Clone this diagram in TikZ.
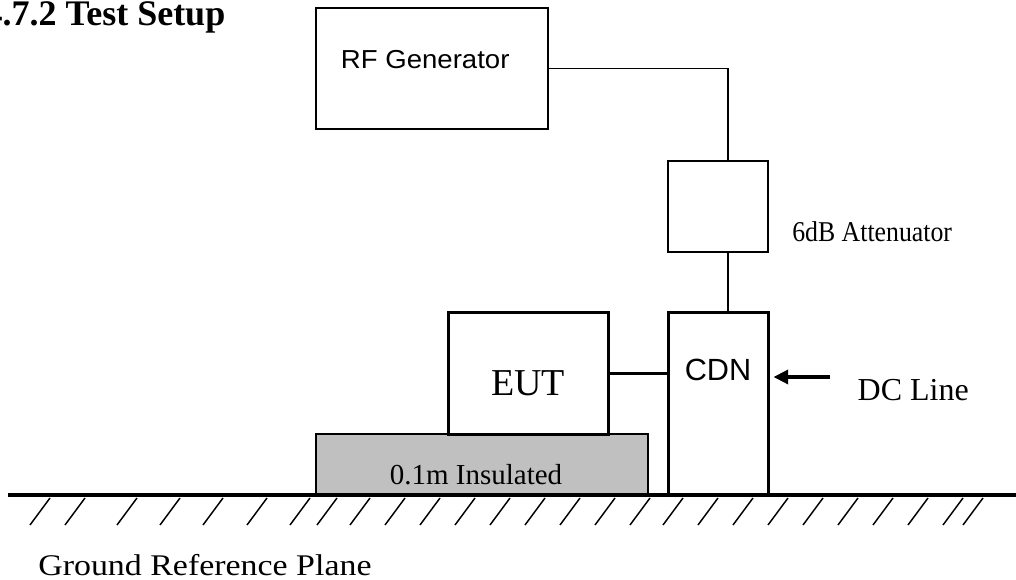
\documentclass[tikz,border=0pt]{standalone}
\usepackage{fontspec}
\setmainfont{Liberation Serif}
\setsansfont{Liberation Sans}
\usetikzlibrary{arrows.meta,positioning}
\definecolor{insulgray}{RGB}{192,192,192}

\begin{document}
\begin{tikzpicture}[x=0.75pt, y=-0.75pt,
    thinbox/.style={draw, line width=1pt, inner sep=0pt},
    thickbox/.style={draw, line width=2.25pt, inner sep=0pt},
    wire/.style={line width=1pt},
    heavywire/.style={line width=2.25pt}]
    % Frame
    \clip (0,0) rectangle (1016,580);

    % Title
    \node[anchor=base east, font=\fontsize{27}{30}\selectfont\bfseries] (title) at (230,26) {4.7.2 Test Setup};

    % Insulated support
    \node[thinbox, fill=insulgray, minimum width=249pt, minimum height=45.75pt] (support) at (482,464.5) {};
    \node[anchor=base, font=\fontsize{21.75}{24}\selectfont] (supportlabel) at (476,484) {0.1m Insulated};

    % Ground plane
    \draw[line width=3.5pt] (8,495) -- (1016,495);
    \foreach \x in {30,65,117,160,203,247,290,317,350,385,420,455,490,525,560,595,630,663,698,733,768,803,838,873,908,943,963} {
        \draw[line width=1.1pt] (\x,525) -- (\x+20,498);
    }
    \node[anchor=base west, xscale=1.13, font=\fontsize{22.5}{25}\selectfont] (groundlabel) at (33,575) {Ground Reference Plane};

    % Boxes
    \node[thinbox, minimum width=174pt, minimum height=90.75pt] (rfgen) at (432,68.5) {};
    \node[anchor=base west, xscale=1.06, font=\sffamily\fontsize{19.5}{22}\selectfont] (rflabel) at (336,69) {RF Generator};

    \node[thinbox, minimum width=75pt, minimum height=68.25pt] (atten) at (718,206.5) {};
    \node[anchor=base west, xscale=0.9, font=\fontsize{21.5}{24}\selectfont] (attenlabel) at (788,242) {6dB Attenuator};

    \node[thickbox, minimum width=75pt, minimum height=136.5pt] (cdn) at (718,404) {};
    \node[anchor=base, font=\sffamily\fontsize{23}{26}\selectfont] (cdnlabel) at (718,381) {CDN};

    \node[thickbox, minimum width=120pt, minimum height=90.75pt] (eut) at (528,373.5) {};
    \node[anchor=base, font=\fontsize{28.5}{31}\selectfont] (eutlabel) at (528,395) {EUT};

    % Connections
    \draw[wire] (rfgen.east) -| ([xshift=7.5pt]atten.north);
    \draw[wire] ([xshift=7.5pt]atten.south) -- ([xshift=7.5pt]cdn.north);
    \draw[heavywire] (eut.east) -- (eut.east -| cdn.west);

    % DC input
    \coordinate (dcin) at (830,377);
    \draw[line width=2.5pt, -{Triangle[length=11pt,width=10.5pt]}] (dcin) -- ([xshift=3pt]cdn.east |- dcin);
    \node[anchor=base west, font=\fontsize{24}{27}\selectfont] (dclabel) at (853,400) {DC Line};
\end{tikzpicture}
\end{document}
